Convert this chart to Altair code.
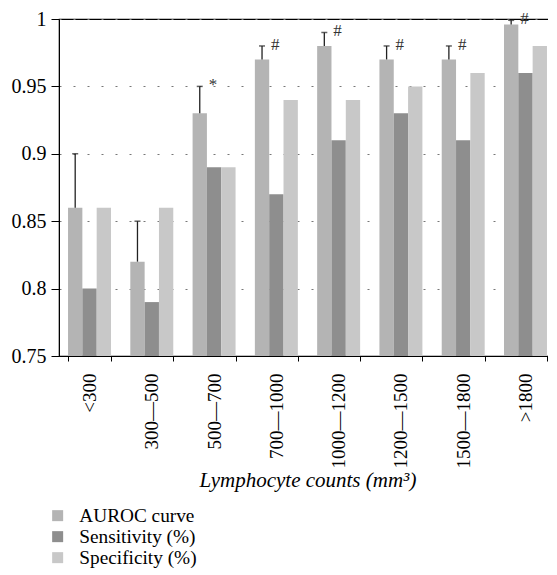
import altair as alt
import pandas as pd

categories = ["<300", "300—500", "500—700", "700—1000", "1000—1200", "1200—1500", "1500—1800", ">1800"]
series_names = ["AUROC curve", "Sensitivity (%)", "Specificity (%)"]
auroc = [0.86, 0.82, 0.93, 0.97, 0.98, 0.97, 0.97, 0.996]
auroc_err_top = [0.90, 0.85, 0.95, 0.98, 0.99, 0.98, 0.98, 0.999]
sensitivity = [0.80, 0.79, 0.89, 0.87, 0.91, 0.93, 0.91, 0.96]
specificity = [0.86, 0.86, 0.89, 0.94, 0.94, 0.95, 0.96, 0.98]
marks = ["", "", "*", "#", "#", "#", "#", "#"]
colors = ["#b4b4b4", "#8e8e8e", "#c8c8c8"]

rows = []
for i, c in enumerate(categories):
    for s, vals in zip(series_names, [auroc, sensitivity, specificity]):
        rows.append({"cat": c, "series": s, "value": vals[i]})
bars_df = pd.DataFrame(rows)

err_df = pd.DataFrame({
    "cat": categories,
    "series": [series_names[0]] * len(categories),
    "value": auroc,
    "top": auroc_err_top,
    "mark": marks,
})

FONT = "Liberation Serif"

x_enc = alt.X(
    "cat:N",
    sort=categories,
    scale=alt.Scale(paddingInner=0.31, paddingOuter=0.145),
    axis=alt.Axis(
        title="Lymphocyte counts (mm³)",
        titleFont=FONT, titleFontSize=21, titleFontStyle="italic", titleFontWeight="normal",
        titleColor="black", titlePadding=1,
        labelAngle=270, labelFont=FONT, labelFontSize=19, labelColor="black", labelPadding=12,
        tickBand="extent", tickSize=5, tickColor="black", domainColor="black",
    ),
)
xoff_enc = alt.XOffset("series:N", sort=series_names,
                       scale=alt.Scale(domain=series_names, paddingInner=0, paddingOuter=0))
y_scale = alt.Scale(domain=[0.75, 1.0], zero=False, nice=False)

bars = alt.Chart(bars_df).mark_bar().encode(
    x=x_enc,
    xOffset=xoff_enc,
    y=alt.Y(
        "value:Q",
        scale=y_scale,
        axis=alt.Axis(
            title=None, values=[0.75, 0.8, 0.85, 0.9, 0.95, 1.0], format=".2~f",
            labelFont=FONT, labelFontSize=20, labelColor="black", labelPadding=5,
            tickSize=8, tickColor="black", domainColor="black",
            grid=True, gridDash=[2, 12], gridColor="#777777", gridWidth=1,
        ),
    ),
    y2=alt.datum(0.75),
    color=alt.Color(
        "series:N",
        sort=series_names,
        scale=alt.Scale(domain=series_names, range=colors),
        legend=alt.Legend(
            title=None, orient="none", legendX=-11, legendY=487,
            symbolType="square", symbolSize=121, symbolStrokeWidth=0,
            labelFont=FONT, labelFontSize=19.3, labelColor="black", labelOffset=12,
            rowPadding=1,
        ),
    ),
)

err_rule = alt.Chart(err_df).mark_rule(color="#222222", strokeWidth=1.3).encode(
    x=alt.X("cat:N", sort=categories),
    xOffset=xoff_enc,
    y=alt.Y("value:Q", scale=y_scale),
    y2="top:Q",
)

err_cap = alt.Chart(err_df).mark_tick(color="#222222", thickness=1.5, size=6, orient="horizontal").encode(
    x=alt.X("cat:N", sort=categories),
    xOffset=xoff_enc,
    y=alt.Y("top:Q", scale=y_scale),
)

labels = alt.Chart(err_df).mark_text(
    font=FONT, fontSize=17, color="#333333", align="left", baseline="middle", dx=9, dy=-1
).encode(
    x=alt.X("cat:N", sort=categories),
    xOffset=xoff_enc,
    y=alt.Y("top:Q", scale=y_scale),
    text="mark:N",
)

chart = alt.layer(bars, err_rule, err_cap, labels).properties(
    width=497, height=337,
    autosize=alt.AutoSizeParams(type="none"),
    padding={"left": 51, "top": 11, "right": -8, "bottom": 220},
).configure_view(stroke="black", strokeWidth=1.2)

chart.save("out.html", embed_options={"renderer": "svg", "actions": False})
